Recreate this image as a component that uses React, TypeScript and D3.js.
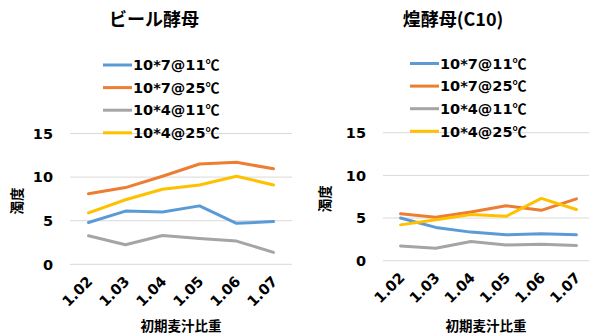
import React from "react";
import * as d3 from "d3";

// Initial wort specific gravity (x categories)
const gravities = ["1.02", "1.03", "1.04", "1.05", "1.06", "1.07"];
const seriesNames = ["10*7@11℃", "10*7@25℃", "10*4@11℃", "10*4@25℃"];
const seriesColors = ["#5B9BD5", "#ED7D31", "#A5A5A5", "#FFC000"];
const yTicks = [0, 5, 10, 15];

// Turbidity, beer yeast
const beerYeast = [
  [4.8, 6.1, 6.0, 6.7, 4.7, 4.9],
  [8.1, 8.8, 10.1, 11.5, 11.7, 10.95],
  [3.27, 2.24, 3.3, 2.97, 2.66, 1.37],
  [5.9, 7.4, 8.6, 9.1, 10.1, 9.1],
];

// Turbidity, 煌 yeast (C10)
const c10Yeast = [
  [5.0, 3.9, 3.35, 3.03, 3.15, 3.03],
  [5.5, 5.1, 5.7, 6.45, 5.9, 7.25],
  [1.73, 1.46, 2.24, 1.85, 1.93, 1.77],
  [4.2, 4.8, 5.4, 5.2, 7.3, 6.0],
];

const LATIN = "'DejaVu Sans', 'Noto Sans CJK JP', sans-serif";
const CJK = "'Noto Sans CJK JP', 'DejaVu Sans', sans-serif";

type PanelProps = {
  title: string;
  data: number[][];
  x0: number;
  x1: number;
  yTop: number;
  yBottom: number;
  titleX: number;
  yTitleX: number;
  legendX: number;
  legendY: number;
};

// Split a legend name so the degree sign renders as a single CJK glyph
function LegendLabel({ name }: { name: string }) {
  const idx = name.indexOf("℃");
  if (idx < 0) return <>{name}</>;
  return (
    <>
      <tspan>{name.slice(0, idx)}</tspan>
      <tspan fontFamily={CJK} fontSize={14}>
        ℃
      </tspan>
    </>
  );
}

function Panel(p: PanelProps) {
  const x = d3.scaleBand<string>().domain(gravities).range([p.x0, p.x1]).padding(0);
  const y = d3.scaleLinear().domain([0, 15]).range([p.yBottom, p.yTop]);
  const cx = (g: string) => (x(g) ?? 0) + x.bandwidth() / 2;
  const line = d3
    .line<number>()
    .x((_, i) => cx(gravities[i]))
    .y((v) => y(v));
  const rowGap = 22.6;
  const midX = (p.x0 + Math.min(p.x1, 589)) / 2;

  return (
    <g>
      <text
        x={p.titleX}
        y={26}
        textAnchor="middle"
        fontFamily={CJK}
        fontWeight="bold"
        fontSize={18}
        fill="#000"
      >
        {p.title}
      </text>
      {yTicks.map((t) => (
        <g key={t}>
          <line x1={p.x0} x2={p.x1} y1={y(t)} y2={y(t)} stroke="#D9D9D9" strokeWidth={1} />
          <text
            x={p.x0 - 17}
            y={y(t)}
            dy="0.36em"
            textAnchor="end"
            fontFamily={LATIN}
            fontWeight="bold"
            fontSize={14.5}
            fill="#000"
          >
            {t}
          </text>
        </g>
      ))}
      {p.data.map((vals, i) => (
        <path
          key={i}
          d={line(vals) ?? ""}
          fill="none"
          stroke={seriesColors[i]}
          strokeWidth={3}
          strokeLinejoin="round"
          strokeLinecap="round"
        />
      ))}
      {gravities.map((g) => (
        <text
          key={g}
          transform={`translate(${cx(g) + 5},${p.yBottom + 18}) rotate(-45)`}
          textAnchor="end"
          fontFamily={LATIN}
          fontWeight="bold"
          fontSize={14.5}
          fill="#000"
        >
          {g}
        </text>
      ))}
      <text
        x={midX}
        y={331}
        textAnchor="middle"
        fontFamily={CJK}
        fontWeight="bold"
        fontSize={13.5}
        fill="#000"
      >
        初期麦汁比重
      </text>
      <text
        transform={`translate(${p.yTitleX},${(p.yTop + p.yBottom) / 2 + 2}) rotate(-90)`}
        textAnchor="middle"
        dy="0.35em"
        fontFamily={CJK}
        fontWeight="bold"
        fontSize={13.5}
        fill="#000"
      >
        濁度
      </text>
      {seriesNames.map((name, i) => (
        <g key={name} transform={`translate(${p.legendX},${p.legendY + i * rowGap})`}>
          <line x1={0} x2={29} y1={0} y2={0} stroke={seriesColors[i]} strokeWidth={3} />
          <text
            x={30}
            y={0}
            dy="0.36em"
            fontFamily={LATIN}
            fontWeight="bold"
            fontSize={14.5}
            fill="#000"
          >
            <LegendLabel name={name} />
          </text>
        </g>
      ))}
    </g>
  );
}

export default function App() {
  return (
    <div style={{ position: "absolute", left: 0, top: 0 }}>
      <svg width={589} height={335} style={{ display: "block", background: "#fff" }}>
        <Panel
          title="ビール酵母"
          data={beerYeast}
          x0={70}
          x1={292}
          yTop={133.5}
          yBottom={264.3}
          titleX={154}
          yTitleX={17}
          legendX={103}
          legendY={65}
        />
        <Panel
          title="煌酵母(C10)"
          data={c10Yeast}
          x0={383}
          x1={594}
          yTop={132.7}
          yBottom={260.7}
          titleX={453}
          yTitleX={325}
          legendX={410}
          legendY={63.5}
        />
      </svg>
    </div>
  );
}
